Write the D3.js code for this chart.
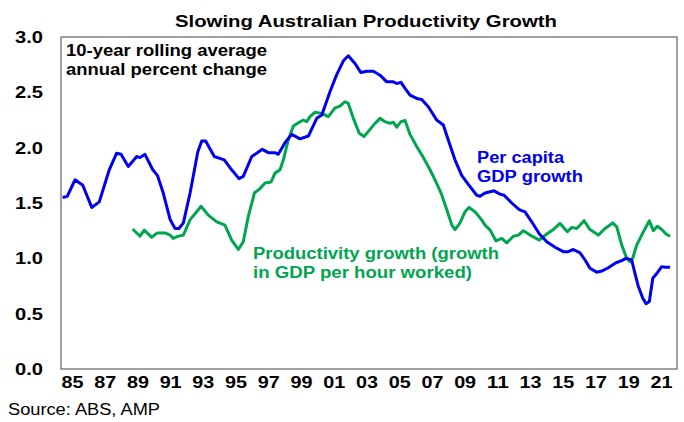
<!DOCTYPE html>
<html>
<head>
<meta charset="utf-8">
<script src="https://cdn.jsdelivr.net/npm/d3@7"></script>
<style>
  body { margin: 0; background: #fff; }
  svg { font-family: "Liberation Sans", Arial, sans-serif; }
</style>
</head>
<body>
<svg id="chart" width="684" height="422"></svg>
<script>
// 10-year rolling average, annual % change (decimal year, value)
var gdpPerCapita = [
  [1984.43, 1.55], [1984.71, 1.56], [1985.19, 1.71], [1985.66, 1.66], [1986.21, 1.46],
  [1986.67, 1.51], [1987.28, 1.80], [1987.73, 1.95], [1988.00, 1.94], [1988.44, 1.83],
  [1988.96, 1.92], [1989.16, 1.91], [1989.46, 1.94], [1989.94, 1.80], [1990.22, 1.75],
  [1990.58, 1.59], [1991.00, 1.35], [1991.30, 1.27], [1991.54, 1.27], [1991.81, 1.32],
  [1992.22, 1.59], [1992.69, 1.96], [1992.93, 2.06], [1993.17, 2.06], [1993.70, 1.92],
  [1994.31, 1.89], [1994.76, 1.80], [1995.21, 1.72], [1995.47, 1.74], [1995.99, 1.92],
  [1996.29, 1.95], [1996.63, 1.985], [1997.00, 1.955], [1997.41, 1.955], [1997.61, 1.94],
  [1998.02, 2.045], [1998.43, 2.12], [1998.94, 2.08], [1999.45, 2.105], [1999.96, 2.265],
  [2000.27, 2.295], [2000.77, 2.505], [2001.18, 2.66], [2001.59, 2.785], [2001.89, 2.83],
  [2002.30, 2.76], [2002.65, 2.68], [2003.02, 2.69], [2003.42, 2.69], [2003.83, 2.655],
  [2004.24, 2.595], [2004.64, 2.595], [2004.85, 2.58], [2005.11, 2.59], [2005.36, 2.535],
  [2005.66, 2.475], [2006.07, 2.445], [2006.38, 2.435], [2006.78, 2.37], [2007.29, 2.25],
  [2007.70, 2.205], [2008.00, 2.07], [2008.41, 1.89], [2008.82, 1.75], [2009.27, 1.66],
  [2009.74, 1.57], [2009.94, 1.56], [2010.25, 1.59], [2010.80, 1.61], [2011.16, 1.58],
  [2011.41, 1.57], [2011.88, 1.50], [2012.34, 1.44], [2012.69, 1.42], [2013.10, 1.33],
  [2013.57, 1.22], [2014.02, 1.15], [2014.53, 1.10], [2015.03, 1.06], [2015.34, 1.06],
  [2015.64, 1.08], [2016.05, 1.05], [2016.36, 0.985], [2016.66, 0.91], [2017.07, 0.875],
  [2017.38, 0.885], [2017.78, 0.915], [2018.25, 0.96], [2018.60, 0.98], [2018.86, 1.00],
  [2019.21, 0.985], [2019.41, 0.865], [2019.62, 0.745], [2019.89, 0.64], [2020.09, 0.59],
  [2020.29, 0.61], [2020.50, 0.82], [2020.78, 0.87], [2021.05, 0.925], [2021.25, 0.92],
  [2021.56, 0.92]
];

var gdpPerHour = [
  [1988.71, 1.265], [1989.16, 1.20], [1989.42, 1.255], [1989.87, 1.19], [1990.22, 1.23],
  [1990.69, 1.23], [1991.00, 1.21], [1991.19, 1.18], [1991.50, 1.20], [1991.81, 1.21],
  [1992.22, 1.35], [1992.56, 1.41], [1992.89, 1.47], [1993.33, 1.39], [1993.85, 1.33],
  [1994.35, 1.30], [1994.76, 1.165], [1995.17, 1.08], [1995.47, 1.15], [1995.78, 1.38],
  [1996.15, 1.59], [1996.49, 1.63], [1996.80, 1.68], [1997.17, 1.69], [1997.41, 1.77],
  [1997.72, 1.80], [1997.92, 1.89], [1998.22, 2.07], [1998.53, 2.195], [1998.84, 2.225],
  [1999.14, 2.25], [1999.35, 2.235], [1999.55, 2.28], [1999.86, 2.32], [2000.27, 2.31],
  [2000.67, 2.28], [2001.08, 2.36], [2001.38, 2.375], [2001.69, 2.415], [2001.89, 2.40],
  [2002.20, 2.265], [2002.56, 2.13], [2002.85, 2.10], [2003.22, 2.165], [2003.52, 2.22],
  [2003.83, 2.265], [2004.13, 2.235], [2004.44, 2.22], [2004.64, 2.23], [2004.85, 2.185],
  [2005.11, 2.235], [2005.36, 2.245], [2005.66, 2.12], [2006.07, 2.01], [2006.38, 1.935],
  [2006.78, 1.83], [2007.19, 1.71], [2007.56, 1.59], [2007.91, 1.44], [2008.22, 1.30],
  [2008.41, 1.26], [2008.72, 1.32], [2009.02, 1.42], [2009.27, 1.46], [2009.64, 1.42],
  [2010.05, 1.345], [2010.25, 1.30], [2010.56, 1.255], [2010.92, 1.157], [2011.27, 1.18],
  [2011.57, 1.14], [2011.98, 1.20], [2012.29, 1.21], [2012.59, 1.25], [2013.00, 1.21],
  [2013.57, 1.165], [2014.02, 1.22], [2014.42, 1.26], [2014.83, 1.315], [2015.28, 1.24],
  [2015.55, 1.28], [2015.85, 1.27], [2016.30, 1.34], [2016.66, 1.26], [2017.17, 1.21],
  [2017.58, 1.27], [2018.05, 1.32], [2018.30, 1.285], [2018.60, 1.12], [2018.91, 1.00],
  [2019.11, 0.97], [2019.27, 1.00], [2019.52, 1.12], [2019.89, 1.23], [2020.29, 1.34],
  [2020.53, 1.25], [2020.78, 1.29], [2021.05, 1.26], [2021.31, 1.22], [2021.56, 1.20]
];

var yTicks = [0, 0.5, 1, 1.5, 2, 2.5, 3];
var xTickYears = d3.range(1985, 2022, 2);
var title = "Slowing Australian Productivity Growth";
var source = "Source: ABS, AMP";

var blue = "#0000F0", green = "#00A550";
var svg = d3.select("#chart");
var plotL = 61, plotR = 677, plotT = 37, plotB = 369;

var x = d3.scaleLinear().domain([1984.33, 2021.98]).range([plotL, plotR]);
var y = d3.scaleLinear().domain([0, 3]).range([plotB, plotT]);

// plot frame
svg.append("rect")
  .attr("x", plotL).attr("y", plotT)
  .attr("width", plotR - plotL).attr("height", plotB - plotT)
  .attr("fill", "none").attr("stroke", "#444").attr("stroke-width", 1);

// y axis
var yAxis = d3.axisLeft(y).tickValues(yTicks).tickSize(0).tickPadding(18)
  .tickFormat(d3.format(".1f"));
var gy = svg.append("g").attr("transform", "translate(" + plotL + ",0)").call(yAxis);
gy.select(".domain").remove();
gy.selectAll("text").attr("font-size", 17).attr("font-weight", "bold")
  .attr("fill", "#000").attr("font-family", "'Liberation Sans', Arial, sans-serif")
  .attr("textLength", 28).attr("lengthAdjust", "spacingAndGlyphs");

// x axis
var xAxis = d3.axisBottom(x).tickValues(xTickYears).tickSize(0).tickPadding(7)
  .tickFormat(function(d) { return String(d).slice(2); });
var gx = svg.append("g").attr("transform", "translate(0," + plotB + ")").call(xAxis);
gx.select(".domain").remove();
gx.selectAll("text").attr("font-size", 17).attr("font-weight", "bold")
  .attr("fill", "#000").attr("font-family", "'Liberation Sans', Arial, sans-serif")
  .attr("textLength", 22).attr("lengthAdjust", "spacingAndGlyphs");

// lines
var line = d3.line().x(function(d) { return x(d[0]); }).y(function(d) { return y(d[1]); });

svg.append("path").datum(gdpPerHour)
  .attr("d", line).attr("fill", "none")
  .attr("stroke", green).attr("stroke-width", 3).attr("stroke-linejoin", "round");

svg.append("path").datum(gdpPerCapita)
  .attr("d", line).attr("fill", "none")
  .attr("stroke", blue).attr("stroke-width", 3).attr("stroke-linejoin", "round");

// text
function label(txt, px, py, len, size, col, weight) {
  svg.append("text").attr("x", px).attr("y", py)
    .attr("font-size", size).attr("font-weight", weight || "bold").attr("fill", col)
    .attr("textLength", len).attr("lengthAdjust", "spacingAndGlyphs")
    .text(txt);
}

label(title, 175, 27, 382, 17, "#000");
label("10-year rolling average", 66, 56, 201, 16, "#000");
label("annual percent change", 66, 75, 201, 16, "#000");
label("Per capita", 477, 163, 87, 16, blue);
label("GDP growth", 477, 182, 106, 16, blue);
label("Productivity growth (growth", 253, 259, 246, 16, green);
label("in GDP per hour worked)", 253, 278, 219, 16, green);
label(source, 8, 415, 152, 16, "#000", "normal");
</script>
</body>
</html>
